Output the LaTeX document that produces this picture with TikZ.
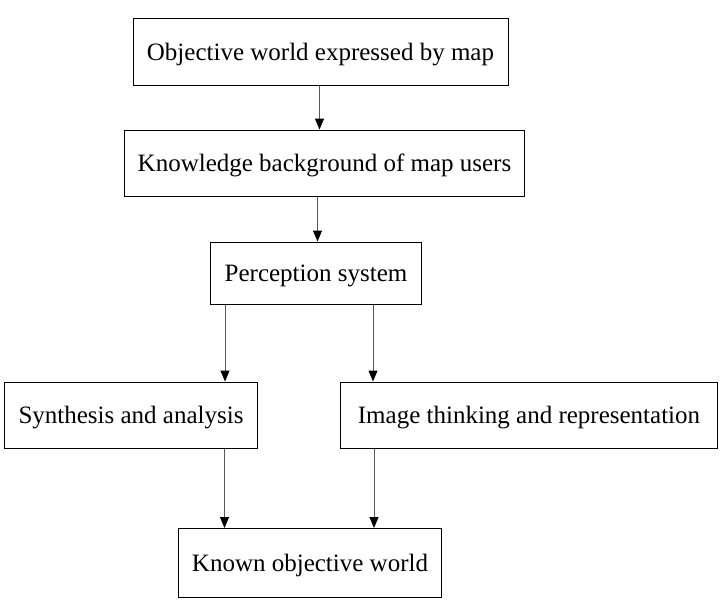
\documentclass[tikz,border=0pt]{standalone}
\usepackage{fontspec}
\setmainfont{Liberation Serif}
\usetikzlibrary{arrows.meta}
\newcommand{\lowtxt}[1]{\raisebox{-8.5pt}[0pt][0pt]{#1}}
\begin{document}
\begin{tikzpicture}[x=1pt,y=-1pt,
  box/.style={draw=black, line width=1pt, inner sep=0pt, align=center,
    font=\fontsize{25}{29}\selectfont},
  arr/.style={draw=black!65, line width=1pt, -{Triangle[length=11pt,width=9pt,fill=black,color=black]}}]
\useasboundingbox (0,0) rectangle (722,605);
\fill[white] (0,0) rectangle (722,605);
\node[box, minimum width=375pt, minimum height=67pt] (a) at (320.5,51.5) {\lowtxt{Objective world expressed by map}};
\node[box, minimum width=400pt, minimum height=66pt] (b) at (324.5,163) {\lowtxt{Knowledge background of map users}};
\node[box, minimum width=211pt, minimum height=62pt] (c) at (316,273) {\lowtxt{Perception system}};
\node[box, minimum width=253pt, minimum height=66pt] (d) at (131,415) {\lowtxt{Synthesis and analysis}};
\node[box, minimum width=377pt, minimum height=66pt] (e) at (529,415) {\lowtxt{Image thinking and representation}};
\node[box, minimum width=263pt, minimum height=69pt] (f) at (310,563) {\lowtxt{Known objective world}};
\coordinate (x1) at (319.5,0);
\coordinate (x2) at (317.5,0);
\coordinate (x3) at (225,0);
\coordinate (x4) at (373,0);
\coordinate (x5) at (224.5,0);
\coordinate (x6) at (374,0);
\draw[arr] (a.south -| x1) -- (b.north -| x1);
\draw[arr] (b.south -| x2) -- (c.north -| x2);
\draw[arr] (c.south -| x3) -- (d.north -| x3);
\draw[arr] (c.south -| x4) -- (e.north -| x4);
\draw[arr] (d.south -| x5) -- (f.north -| x5);
\draw[arr] (e.south -| x6) -- (f.north -| x6);
\end{tikzpicture}
\end{document}
